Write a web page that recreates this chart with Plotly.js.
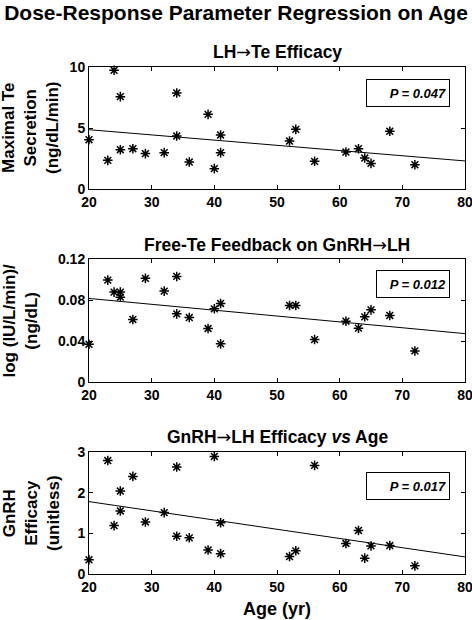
<!DOCTYPE html>
<html>
<head>
<meta charset="utf-8">
<script src="https://cdn.plot.ly/plotly-3.0.1.min.js"></script>
<style>html,body{margin:0;padding:0;background:#fff;}#chart{width:472px;height:620px;}</style>
</head>
<body>
<div id="chart"></div>
<script>
// ---- data ----
const age = [20,23,24,25,25,27,29,32,34,34,36,39,40,41,41,52,53,56,61,63,64,65,68,72];
const maxTeSecretion = [4.04,2.35,9.73,7.57,3.22,3.30,2.90,2.98,7.87,4.34,2.21,6.12,1.67,4.43,2.98,3.93,4.89,2.27,3.03,3.30,2.54,2.10,4.73,1.99];
const teFeedback = [0.0368,0.0994,0.0877,0.0877,0.0828,0.0610,0.1011,0.0887,0.1030,0.0665,0.0629,0.0522,0.0714,0.0766,0.0372,0.0747,0.0747,0.0414,0.0593,0.0525,0.0636,0.0704,0.0649,0.0303];
const gnrhEfficacy = [0.35,2.79,1.19,2.04,1.55,2.40,1.28,1.51,2.63,0.93,0.89,0.59,2.89,1.26,0.50,0.43,0.57,2.67,0.75,1.07,0.39,0.69,0.70,0.20];
const fitAge = [20, 80];
const fitMaxTe = [4.86, 2.30];
const fitFeedback = [0.0815, 0.0472];
const fitGnrh = [1.78, 0.42];
const pLabels = ['P = 0.047', 'P = 0.012', 'P = 0.017'];
const ARROW = '<span style="font-family:\'DejaVu Sans\';font-weight:normal">\u2192</span>';
const panelTitles = ['LH' + ARROW + 'Te Efficacy', 'Free-Te Feedback on GnRH' + ARROW + 'LH', 'GnRH' + ARROW + 'LH Efficacy <i>vs</i> Age'];
const yTitles = ['Maximal Te<br>Secretion<br>(ng/dL/min)', 'log (IU/L/min)/<br>(ng/dL)', 'GnRH<br>Efficacy<br>(unitless)'];
const xTickVals = [20,30,40,50,60,70,80];
const y1TickVals = [0,5,10];
const y2TickVals = [0,0.04,0.08,0.12];
const y2TickText = ['0','0.04','0.08','0.12'];
const y3TickVals = [0,1,2,3];

// ---- styling ----
const FONT = 'Liberation Sans, Arial, sans-serif';
const W = 472, H = 620;
const panelsPx = [[67,189],[259,382],[452,574]];
const dom = panelsPx.map(([t,b]) => [1-b/H, 1-t/H]);

const yRanges = [[0,10],[0,0.12],[0,3]];
const ys = [maxTeSecretion, teFeedback, gnrhEfficacy];
const fits = [fitMaxTe, fitFeedback, fitGnrh];

const traces = [];
ys.forEach((yv, i) => {
  const sfx = i === 0 ? '' : String(i+1);
  traces.push({
    x: fitAge, y: fits[i], xaxis: 'x'+sfx, yaxis: 'y'+sfx, type: 'scatter', mode: 'lines',
    line: {color: '#000', width: 1}, hoverinfo: 'skip'
  });
  traces.push({
    x: age, y: yv, xaxis: 'x'+sfx, yaxis: 'y'+sfx, type: 'scatter', mode: 'markers',
    cliponaxis: false,
    marker: {symbol: 'asterisk-open', size: 8, color: '#000', line: {color: '#000', width: 1.5}},
    hoverinfo: 'skip'
  });
});

const tickfont = {family: FONT, size: 14, color: '#000', weight: 'bold'};
const baseAxis = {
  showline: true, linecolor: '#000', linewidth: 1, mirror: 'ticks',
  ticks: 'inside', ticklen: 4, tickwidth: 1, tickcolor: '#000',
  showgrid: false, zeroline: false, tickfont: tickfont, automargin: false, fixedrange: true,
  ticklabeloverflow: 'allow'
};

const layout = {
  width: W, height: H,
  margin: {l: 89, r: 7, t: 0, b: 0},
  paper_bgcolor: '#fff', plot_bgcolor: '#fff',
  showlegend: false,
  font: {family: FONT, color: '#000'},
  title: {text: '<b>Dose-Response Parameter Regression on Age</b>', font: {family: FONT, size: 21, color: '#000'},
          x: 0.5, xref: 'container', xanchor: 'center', y: 1-13/H, yref: 'container', yanchor: 'middle'},
  annotations: []
};

const titleY = [52, 245, 437];
const yTitleX = [31, 20, 31];
const boxes = [
  {cx: 408, cy: 93, w: 76},
  {cx: 412.5, cy: 284, w: 66},
  {cx: 408, cy: 485.5, w: 76}
];
const plotL = 89, plotW = 376;

for (let i = 0; i < 3; i++) {
  const sfx = i === 0 ? '' : String(i+1);
  layout['xaxis'+sfx] = Object.assign({}, baseAxis, {
    domain: [0,1], range: [20,80], tickvals: xTickVals, anchor: 'y'+sfx
  });
  const yax = Object.assign({}, baseAxis, {domain: dom[i], range: yRanges[i], anchor: 'x'+sfx});
  if (i === 0) yax.tickvals = y1TickVals;
  if (i === 1) { yax.tickvals = y2TickVals; yax.ticktext = y2TickText; }
  if (i === 2) yax.tickvals = y3TickVals;
  layout['yaxis'+sfx] = yax;

  layout.annotations.push({
    text: '<b>' + panelTitles[i] + '</b>', xref: 'paper', yref: 'paper',
    x: 0.5, y: 1 - titleY[i]/H, xanchor: 'center', yanchor: 'middle',
    showarrow: false, font: {family: FONT, size: 17.5, color: '#000'}
  });
  const [t, b] = panelsPx[i];
  layout.annotations.push({
    text: '<b>' + yTitles[i] + '</b>', xref: 'paper', yref: 'paper',
    x: (yTitleX[i]-plotL)/plotW, y: 1 - ((t+b)/2)/H, xanchor: 'center', yanchor: 'middle',
    textangle: -90, showarrow: false, font: {family: FONT, size: 17, color: '#000'}
  });
  const bx = boxes[i];
  layout.annotations.push({
    text: '<b><i>' + pLabels[i] + '</i></b>', xref: 'paper', yref: 'paper',
    x: (bx.cx-plotL)/plotW, y: 1 - bx.cy/H, xanchor: 'center', yanchor: 'middle',
    width: bx.w, height: 20, align: 'right', borderpad: 3,
    bordercolor: '#000', borderwidth: 1, bgcolor: '#fff',
    showarrow: false, font: {family: FONT, size: 13, color: '#000'}
  });
}

layout.annotations.push({
  text: '<b>Age (yr)</b>', xref: 'paper', yref: 'paper',
  x: 0.5, y: 1 - 609/H, xanchor: 'center', yanchor: 'middle',
  showarrow: false, font: {family: FONT, size: 18, color: '#000'}
});

Plotly.newPlot('chart', traces, layout, {staticPlot: true, displayModeBar: false});
</script>
</body>
</html>
